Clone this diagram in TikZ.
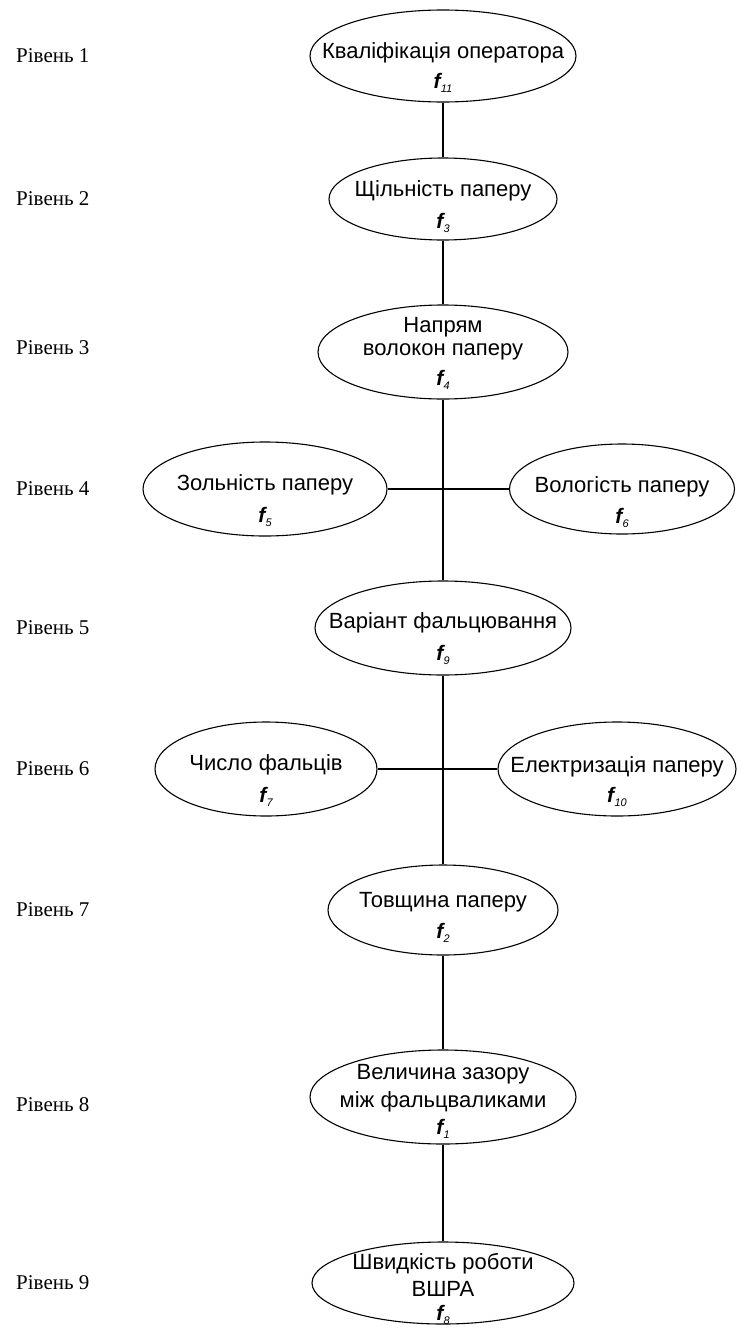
\documentclass[tikz,border=0pt]{standalone}
\usepackage{fontspec}
\setmainfont{Liberation Sans}
\newfontfamily\lvlfont{Liberation Serif}
\usetikzlibrary{shapes.geometric}
\newcommand{\fsub}[1]{{\fontsize{21}{21}\selectfont\bfseries\itshape f}\kern0.3pt\raisebox{-4pt}{\fontsize{11}{11}\selectfont\itshape #1}}
\tikzset{
  ell/.style={ellipse, draw, line width=1.1pt, inner sep=0pt},
  txt/.style={inner sep=0pt, font=\fontsize{22}{25}\selectfont},
  fl/.style={inner sep=0pt},
  lvl/.style={anchor=west, inner sep=0pt, font=\lvlfont\fontsize{21}{24}\selectfont},
  conn/.style={line width=1.1pt}
}
\begin{document}
\begin{tikzpicture}[x=1pt,y=1pt]
\useasboundingbox (0,0) rectangle (737,-1328);
% ellipses
\node[ell, minimum width=266, minimum height=92] (e1) at (443,-56) {};
\node[ell, minimum width=228, minimum height=82] (e2) at (443,-199) {};
\node[ell, minimum width=250, minimum height=94] (e3) at (443,-352) {};
\node[ell, minimum width=244, minimum height=94] (e4l) at (265,-489) {};
\node[ell, minimum width=225, minimum height=90] (e4r) at (622,-489) {};
\node[ell, minimum width=256, minimum height=94] (e5) at (443,-628) {};
\node[ell, minimum width=222, minimum height=94] (e6l) at (266,-769) {};
\node[ell, minimum width=238, minimum height=94] (e6r) at (617,-769) {};
\node[ell, minimum width=230, minimum height=90] (e7) at (443,-910) {};
\node[ell, minimum width=266, minimum height=94] (e8) at (443,-1097) {};
\node[ell, minimum width=262, minimum height=82] (e9) at (443,-1283) {};
% texts
\node[txt] (t1) at (443,-53) {Кваліфікація оператора};
\node[fl] (f1) at (443,-83) {\fsub{11}};
\node[txt] (t2) at (443,-191) {Щільність паперу};
\node[fl] (f2) at (443,-223) {\fsub{3}};
\node[txt] (t3a) at (443,-327) {Напрям};
\node[txt] (t3b) at (443,-352) {волокон паперу};
\node[fl] (f3) at (443,-380) {\fsub{4}};
\node[txt] (t4l) at (265,-485) {Зольність паперу};
\node[fl] (f4l) at (265,-517) {\fsub{5}};
\node[txt] (t4r) at (622,-487) {Вологість паперу};
\node[fl] (f4r) at (622,-518) {\fsub{6}};
\node[txt] (t5) at (443,-623) {Варіант фальцювання};
\node[fl] (f5) at (443,-655) {\fsub{9}};
\node[txt] (t6l) at (266,-765) {Число фальців};
\node[fl] (f6l) at (266,-797) {\fsub{7}};
\node[txt] (t6r) at (617,-767) {Електризація паперу};
\node[fl] (f6r) at (617,-797) {\fsub{10}};
\node[txt] (t7) at (443,-902) {Товщина паперу};
\node[fl] (f7) at (443,-933) {\fsub{2}};
\node[txt] (t8a) at (443,-1074) {Величина зазору};
\node[txt] (t8b) at (443,-1102) {між фальцваликами};
\node[fl] (f8) at (443,-1129) {\fsub{1}};
\node[txt] (t9a) at (443,-1264) {Швидкість роботи};
\node[txt] (t9b) at (443,-1289) {ВШРА};
\node[fl] (f9) at (443,-1315) {\fsub{8}};
% levels
\node[lvl] (l1) at (16,-56) {Рівень 1};
\node[lvl] (l2) at (16,-199) {Рівень 2};
\node[lvl] (l3) at (16,-348) {Рівень 3};
\node[lvl] (l4) at (16,-489) {Рівень 4};
\node[lvl] (l5) at (16,-628) {Рівень 5};
\node[lvl] (l6) at (16,-769) {Рівень 6};
\node[lvl] (l7) at (16,-910) {Рівень 7};
\node[lvl] (l8) at (16,-1105) {Рівень 8};
\node[lvl] (l9) at (16,-1283) {Рівень 9};
% connectors
\draw[conn] (e1.south) -- (e2.north);
\draw[conn] (e2.south) -- (e3.north);
\draw[conn] (e3.south) -- (e5.north);
\draw[conn] (e4l.east) -- (e4r.west);
\draw[conn] (e5.south) -- (e7.north);
\draw[conn] (e6l.east) -- (e6r.west);
\draw[conn] (e7.south) -- (e8.north);
\draw[conn] (e8.south) -- (e9.north);
\end{tikzpicture}
\end{document}
